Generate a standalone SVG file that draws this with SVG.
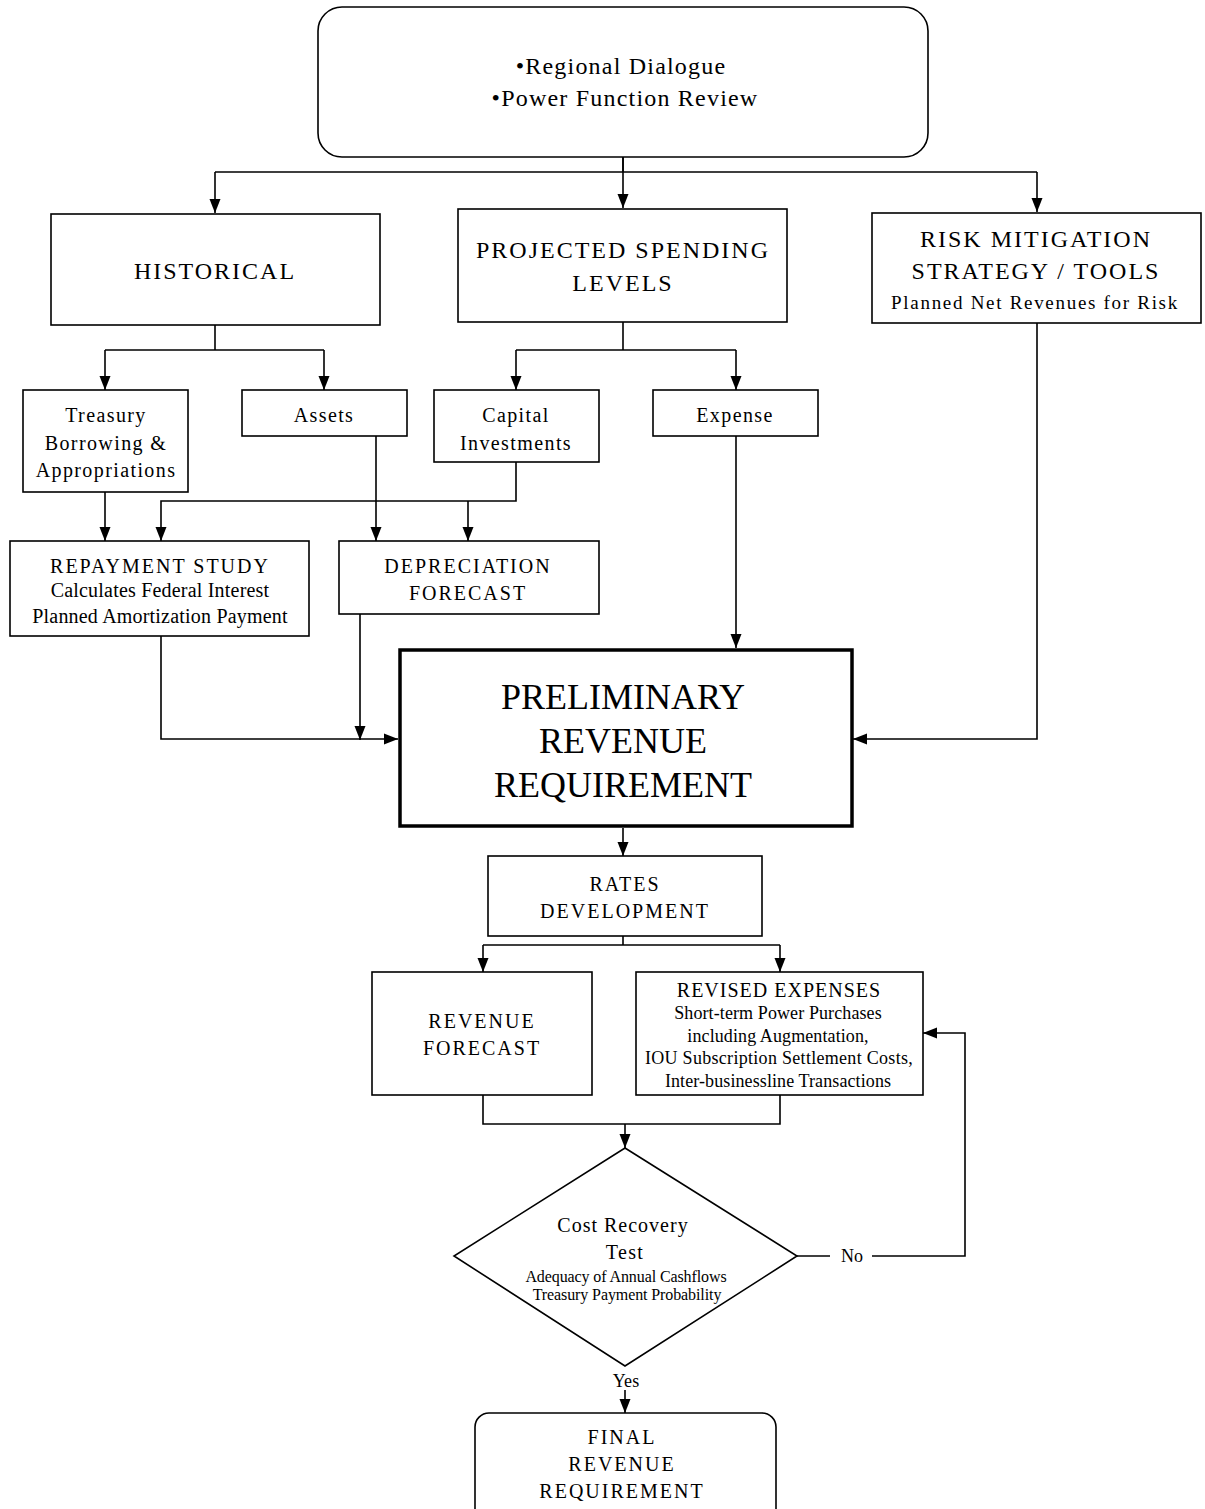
<svg xmlns="http://www.w3.org/2000/svg" width="1205" height="1509" viewBox="0 0 1205 1509">
<defs>
<marker id="ah" viewBox="0 0 14 12" refX="14" refY="6" markerWidth="14" markerHeight="12" markerUnits="userSpaceOnUse" orient="auto">
<path d="M0,0.5 L14,6 L0,11.5 Z" fill="#000"/>
</marker>
<style>
.box{fill:#fff;stroke:#000;stroke-width:1.6}
.thick{fill:#fff;stroke:#000;stroke-width:3.5}
.c{fill:none;stroke:#000;stroke-width:1.6}
.a{fill:none;stroke:#000;stroke-width:1.6;marker-end:url(#ah)}
text{font-family:"Liberation Serif","Times New Roman",serif;fill:#000;text-anchor:middle}
.h{font-size:24px;letter-spacing:2px}
.h2{font-size:20px;letter-spacing:2px}
.m{font-size:20px;letter-spacing:1.4px}
.n{font-size:20px;letter-spacing:0.2px}
.s{font-size:18px;letter-spacing:0.1px}
.xs{font-size:16px;letter-spacing:-0.1px}
.big{font-size:36px}
.t{font-size:24px;letter-spacing:1.2px}
</style>
</defs>
<rect width="1205" height="1509" fill="#fff"/>
<g id="connectors">
<path class="c" d="M623,157 V172 M215,172 H1037"/>
<path class="a" d="M215,172 V213"/>
<path class="a" d="M623,157 V208"/>
<path class="a" d="M1037,172 V212"/>
<path class="c" d="M215,325 V350 M105,350 H324"/>
<path class="a" d="M105,350 V390"/>
<path class="a" d="M324,350 V390"/>
<path class="c" d="M623,322 V350 M516,350 H736"/>
<path class="a" d="M516,350 V390"/>
<path class="a" d="M736,350 V390"/>
<path class="a" d="M105,492 V541"/>
<path class="a" d="M516,462 V501 H161 V541"/>
<path class="a" d="M468,501 V541"/>
<path class="a" d="M376,436 V541"/>
<path class="a" d="M736,436 V648"/>
<path class="a" d="M161,636 V739 H398"/>
<path class="a" d="M360,614 V740"/>
<path class="a" d="M1037,323 V739 H853"/>
<path class="a" d="M623,828 V856"/>
<path class="c" d="M623,936 V945 M483,945 H780"/>
<path class="a" d="M483,945 V972"/>
<path class="a" d="M780,945 V972"/>
<path class="c" d="M483,1095 V1124 H780 V1095"/>
<path class="a" d="M625,1124 V1148"/>
<path class="c" d="M797,1256 H830"/>
<path class="a" d="M872,1256 H965 V1033 H923"/>
<path class="a" d="M625,1390 V1413"/>
<text class="s" x="852" y="1262">No</text>
<text class="s" x="626" y="1387">Yes</text>
</g>
<g id="top">
<rect class="box" x="318" y="7" width="610" height="150" rx="24"/>
<text class="t" x="621" y="74">•Regional Dialogue</text>
<text class="t" x="625" y="106">•Power Function Review</text>
</g>
<g id="historical">
<rect class="box" x="51" y="214" width="329" height="111"/>
<text class="h" x="215" y="279">HISTORICAL</text>
</g>
<g id="projected">
<rect class="box" x="458" y="209" width="329" height="113"/>
<text class="h" x="623" y="258">PROJECTED SPENDING</text>
<text class="h" x="623" y="291">LEVELS</text>
</g>
<g id="risk">
<rect class="box" x="872" y="213" width="329" height="110"/>
<text class="h" x="1036" y="247">RISK MITIGATION</text>
<text class="h" x="1036" y="279">STRATEGY / TOOLS</text>
<text x="1035" y="309" style="font-size:19px;letter-spacing:1.7px">Planned Net Revenues for Risk</text>
</g>
<g id="treasury">
<rect class="box" x="23" y="390" width="165" height="102"/>
<text class="m" x="106" y="422">Treasury</text>
<text class="m" x="106" y="450">Borrowing &amp;</text>
<text class="m" x="106" y="477">Appropriations</text>
</g>
<g id="assets">
<rect class="box" x="242" y="390" width="165" height="46"/>
<text class="m" x="324" y="422">Assets</text>
</g>
<g id="capital">
<rect class="box" x="434" y="390" width="165" height="72"/>
<text class="m" x="516" y="422">Capital</text>
<text class="m" x="516" y="450">Investments</text>
</g>
<g id="expense">
<rect class="box" x="653" y="390" width="165" height="46"/>
<text class="m" x="735" y="422">Expense</text>
</g>
<g id="repayment">
<rect class="box" x="10" y="541" width="299" height="95"/>
<text class="h2" x="160" y="573">REPAYMENT STUDY</text>
<text class="n" x="160" y="597">Calculates Federal Interest</text>
<text class="n" x="160" y="623">Planned Amortization Payment</text>
</g>
<g id="depreciation">
<rect class="box" x="339" y="541" width="260" height="73"/>
<text class="h2" x="468" y="573">DEPRECIATION</text>
<text class="h2" x="468" y="600">FORECAST</text>
</g>
<g id="preliminary">
<rect class="thick" x="400" y="650" width="452" height="176"/>
<text class="big" x="623" y="709">PRELIMINARY</text>
<text class="big" x="623" y="753">REVENUE</text>
<text class="big" x="623" y="797">REQUIREMENT</text>
</g>
<g id="rates">
<rect class="box" x="488" y="856" width="274" height="80"/>
<text class="h2" x="625" y="891">RATES</text>
<text class="h2" x="625" y="918">DEVELOPMENT</text>
</g>
<g id="revenue-forecast">
<rect class="box" x="372" y="972" width="220" height="123"/>
<text class="h2" x="482" y="1028">REVENUE</text>
<text class="h2" x="482" y="1055">FORECAST</text>
</g>
<g id="revised">
<rect class="box" x="636" y="972" width="287" height="123"/>
<text class="h2" x="779" y="997" style="letter-spacing:1px">REVISED EXPENSES</text>
<text class="s" x="778" y="1019">Short-term Power Purchases</text>
<text class="s" x="778" y="1042">including Augmentation,</text>
<text class="s" x="779" y="1064" style="letter-spacing:0.3px">IOU Subscription Settlement Costs,</text>
<text class="s" x="778" y="1087">Inter-businessline Transactions</text>
</g>
<g id="cost-recovery">
<path class="box" d="M625,1148 L797,1256 L625,1366 L454,1256 Z"/>
<text class="m" x="623" y="1232" style="letter-spacing:1px">Cost Recovery</text>
<text class="m" x="625" y="1259">Test</text>
<text class="xs" x="626" y="1282">Adequacy of Annual Cashflows</text>
<text class="xs" x="627" y="1300">Treasury Payment Probability</text>
</g>
<g id="final">
<rect class="box" x="475" y="1413" width="301" height="110" rx="14"/>
<text class="h2" x="622" y="1444">FINAL</text>
<text class="h2" x="622" y="1471">REVENUE</text>
<text class="h2" x="622" y="1498">REQUIREMENT</text>
</g>
</svg>
